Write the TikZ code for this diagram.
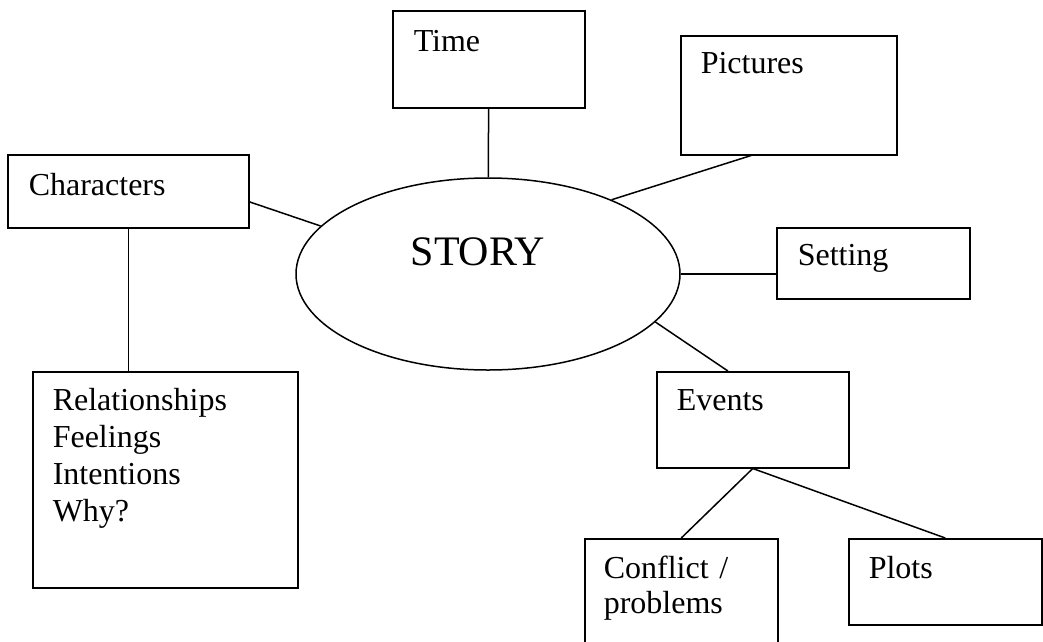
\documentclass[tikz,border=0pt]{standalone}
\usepackage{fontspec}
\setmainfont{Liberation Serif}
\usetikzlibrary{shapes.geometric}

\tikzset{
  topic/.style={draw, line width=1.5pt, anchor=north west, inner ysep=0pt,
    align=left, font=\fontsize{32}{36.8}\selectfont},
  link/.style={line width=1.5pt},
}

\begin{document}
\begin{tikzpicture}[x=1pt, y=-1pt]
\clip (0,0) rectangle (1043,641);

\node[ellipse, draw, line width=1.5pt, inner sep=0pt, minimum width=384pt, minimum height=192pt] (story) at (488,274) {};
\node[anchor=base, font=\fontsize{42}{48}\selectfont] (storytext) at (478,265) {STORY};

\node[topic, text width=150pt, inner xsep=21pt, text height=41pt, text depth=56pt] (time) at (392,10) {Time};
\node[topic, text width=176pt, inner xsep=20pt, text height=38pt, text depth=81pt] (pictures) at (680,35) {Pictures};
\node[topic, text width=199pt, inner xsep=21pt, text height=41pt, text depth=32pt] (characters) at (7,154) {Characters};
\node[topic, text width=151pt, inner xsep=21pt, text height=38pt, text depth=33pt] (setting) at (776,227) {Setting};
\node[topic, text width=225pt, inner xsep=20pt, text height=39pt, text depth=177pt] (inner) at (32,371) {Relationships\\Feelings\\Intentions\\Why?};
\node[topic, text width=152pt, inner xsep=20pt, text height=39pt, text depth=57pt] (events) at (656,371) {Events};
\node[topic, text width=155pt, inner xsep=19pt, text height=40pt, text depth=70pt, font=\fontsize{32}{35}\selectfont] (conflict) at (584,538) {Conflict /\\problems};
\node[topic, text width=153pt, inner xsep=20pt, text height=40pt, text depth=46pt] (plots) at (848,538) {Plots};

\draw[link] (time) -- (story);
\draw[link] (pictures.238.8) -- (story.31);
\draw[link] (characters.-5.5) -- (story.164);
\draw[link] (story.east) -- (story.east -| setting.west);
\draw[link] (story.-16.3) -- (events.117.5);
\draw[link] (characters.south) -- (characters.south |- inner.north);
\draw[link] (events.south) -- (conflict.north);
\draw[link] (events.south) -- (plots.north);
\end{tikzpicture}
\end{document}
